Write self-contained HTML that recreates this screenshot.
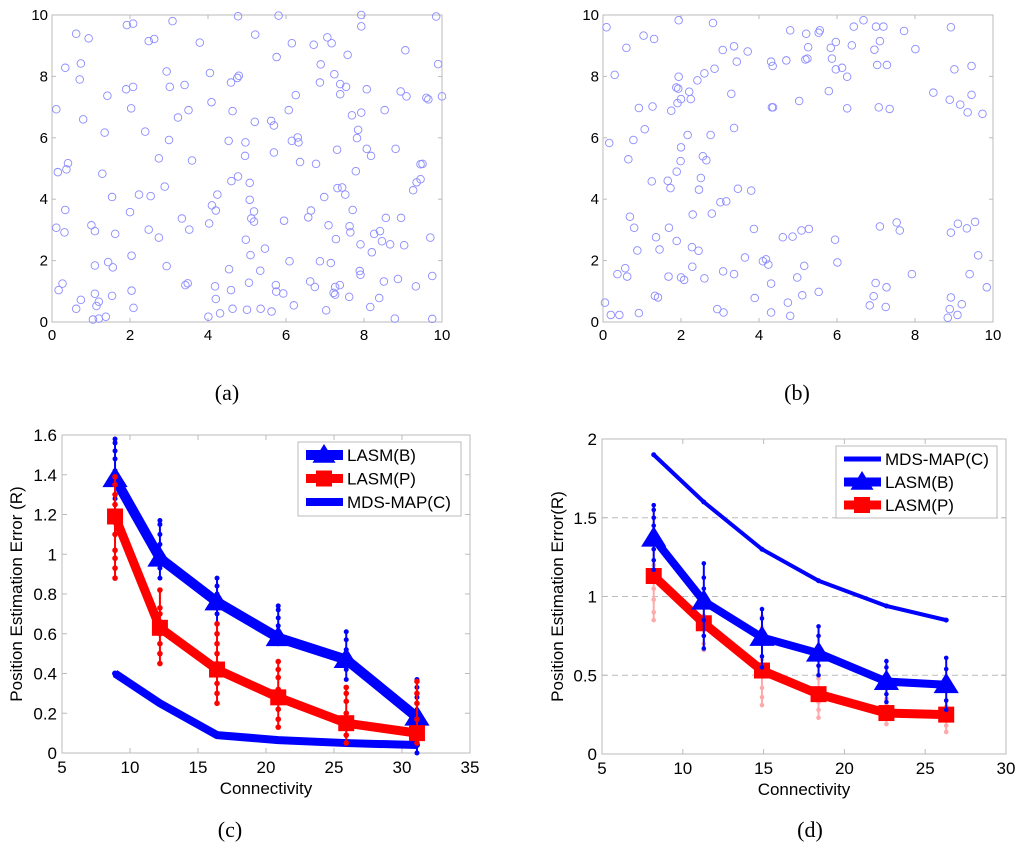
<!DOCTYPE html>
<html><head><meta charset="utf-8"><style>
body{margin:0;background:#fff;}
svg{display:block;font-family:"Liberation Sans",sans-serif;}
</style></head><body>
<svg id="fig" width="1024" height="850" viewBox="0 0 1024 850"></svg>
<script>
// ---------- DATA ----------
const scatterAX=[0.62,0.94,1.92,2.08,2.48,2.62,3.09,3.79,4.77,5.81,5.21,6.15,6.71,7.06,7.17,7.93,7.93,9.06,0.34,0.74,0.71,0.8,0.11,1.42,1.9,2.08,2.03,1.35,2.39,2.94,3.02,3.4,3.23,3.5,3.0,4.05,4.09,4.59,4.75,4.79,4.63,5.76,6.25,6.07,6.89,6.87,7.24,7.58,7.39,7.54,7.39,8.07,7.69,7.93,8.53,8.94,9.09,5.2,5.62,5.69,6.15,6.3,6.32,4.53,4.96,4.95,7.85,7.82,8.07,8.18,8.81,7.31,5.69,6.36,6.77,7.79,0.15,0.37,0.41,1.29,2.74,3.59,4.77,4.6,5.07,2.23,2.53,2.89,1.54,4.24,5.07,7.32,7.44,7.52,6.98,9.26,9.35,9.45,0.34,0.11,0.32,1.01,1.1,2.0,1.62,2.48,2.74,3.33,3.52,4.03,4.1,4.2,5.11,5.18,5.18,5.95,6.57,6.64,7.09,7.71,7.63,7.65,8.56,8.95,8.41,8.26,8.46,8.67,7.28,7.91,9.03,4.97,5.46,5.09,8.2,2.04,1.44,1.56,1.1,2.94,4.54,5.34,6.09,6.87,7.15,7.89,7.91,0.27,0.17,1.1,2.04,1.54,0.74,0.62,1.2,1.14,2.09,1.38,1.2,1.05,3.42,3.48,4.18,4.2,4.31,4.01,4.59,4.63,5.05,5.0,5.35,5.63,5.74,5.75,5.93,6.2,6.62,6.74,7.26,7.22,7.26,7.38,7.03,7.62,8.16,8.39,8.51,8.87,8.79,9.33,9.85,9.9,9.6,10.0,9.5,9.45,9.7,9.75,9.75,9.65];
const scatterAY=[9.39,9.24,9.67,9.72,9.15,9.22,9.8,9.1,9.96,9.98,9.36,9.08,9.03,9.27,9.08,10,9.63,8.85,8.28,8.42,7.9,6.6,6.93,7.37,7.58,7.66,6.96,6.17,6.2,8.16,7.66,7.72,6.66,6.9,5.93,8.11,7.16,7.8,7.95,8.02,6.87,8.63,7.39,6.9,8.39,7.8,8.07,8.7,7.75,7.66,7.42,7.58,6.73,6.82,6.9,7.51,7.35,6.52,6.55,6.4,5.9,6.01,5.85,5.9,5.85,5.41,6.26,5.99,5.64,5.41,5.64,5.61,5.52,5.21,5.15,4.91,4.88,4.97,5.17,4.83,5.33,5.26,4.74,4.59,4.53,4.15,4.1,4.41,4.07,4.15,3.98,4.36,4.38,4.15,4.07,4.29,4.55,5.14,3.65,3.07,2.92,3.15,2.96,3.58,2.87,3.01,2.75,3.37,3.01,3.21,3.8,3.63,3.37,3.6,3.27,3.3,3.41,3.63,3.15,3.65,3.12,2.92,3.39,3.39,2.96,2.87,2.63,2.53,2.7,2.53,2.5,2.68,2.39,2.18,2.27,2.16,1.95,1.78,1.84,1.82,1.72,1.67,1.98,1.98,1.92,1.66,1.54,1.25,1.04,0.92,1.02,0.85,0.72,0.43,0.66,0.52,0.46,0.17,0.11,0.08,1.2,1.26,1.16,0.75,0.28,0.17,1.04,0.43,1.28,0.4,0.43,0.34,1.2,0.99,0.93,0.54,1.32,1.14,1.14,0.95,0.89,1.2,0.38,0.82,0.49,0.78,1.32,1.4,0.11,1.16,9.95,8.4,7.3,7.35,5.15,4.65,2.75,1.5,0.1,7.25];
const scatterBX=[0.09,1.04,1.31,1.94,2.82,0.6,0.3,0.92,1.27,1.07,0.16,0.78,0.65,1.75,1.91,2.0,2.25,2.21,1.88,1.93,1.94,2.42,2.6,2.86,3.07,3.36,3.43,3.71,3.29,2.17,2.76,3.36,2.0,1.99,2.56,2.65,1.89,1.25,1.66,1.73,2.51,2.46,3.46,3.8,3.01,3.16,2.3,2.79,0.69,0.8,1.69,1.36,1.89,0.88,1.45,2.28,2.45,3.87,2.29,0.57,0.37,0.62,1.68,2.0,2.08,2.6,3.08,3.36,3.64,4.1,4.18,4.24,4.31,1.33,1.41,0.05,0.2,0.42,0.92,2.93,3.09,3.89,4.31,4.74,4.8,4.61,4.86,5.09,5.28,5.16,4.98,5.11,5.53,5.95,6.01,6.99,6.94,6.84,7.25,7.27,7.1,7.53,7.61,7.92,8.92,9.1,9.33,9.54,9.62,9.4,9.84,8.92,8.89,8.84,9.09,9.2,4.8,5.21,5.53,5.56,5.26,5.19,5.24,4.7,4.31,4.35,5.84,5.97,5.87,5.97,6.13,6.26,5.79,5.03,4.33,4.36,6.26,6.38,6.43,6.68,7.0,7.19,7.1,6.96,7.03,7.28,7.07,7.35,7.72,8.01,8.47,8.92,9.01,9.45,8.89,9.16,9.45,9.35,9.73];
const scatterBY=[9.6,9.33,9.22,9.83,9.74,8.93,8.05,6.97,7.02,6.28,5.83,5.93,5.3,6.88,7.13,7.26,7.26,7.5,7.64,7.6,7.99,7.87,8.1,8.25,8.86,8.98,8.48,8.81,7.43,6.09,6.09,6.32,5.69,5.24,5.4,5.27,4.9,4.58,4.6,4.36,4.69,4.31,4.34,4.28,3.9,3.93,3.5,3.53,3.43,3.07,3.07,2.76,2.64,2.33,2.36,2.44,2.32,3.03,1.8,1.75,1.56,1.48,1.48,1.45,1.37,1.42,1.65,1.56,2.1,1.98,2.04,1.87,1.25,0.85,0.8,0.63,0.23,0.23,0.29,0.42,0.31,0.78,0.31,0.63,0.2,2.76,2.78,2.98,3.03,1.83,1.45,0.87,0.98,2.68,1.94,1.27,0.84,0.54,0.49,1.13,3.11,3.24,2.98,1.56,2.91,3.2,3.05,3.26,2.17,1.56,1.13,0.8,0.42,0.14,0.23,0.58,9.5,9.39,9.42,9.5,8.95,8.55,8.58,8.52,8.48,8.34,8.93,9.12,8.58,8.23,8.28,7.99,7.52,7.2,6.99,6.99,6.96,9.01,9.62,9.83,9.62,9.62,9.15,8.87,8.37,8.37,6.99,6.94,9.48,8.89,7.47,9.6,8.23,8.34,7.24,7.08,7.4,6.83,6.78];

const cX=[8.9,12.2,16.4,20.9,25.9,31.1];
const cB=[1.38,0.98,0.76,0.58,0.47,0.18];
const cP=[1.19,0.63,0.42,0.28,0.15,0.10];
const cM=[0.40,0.25,0.09,0.065,0.05,0.04];
const cBerr=[[1.1,1.2,1.28,1.35,1.42,1.48,1.52,1.56,1.58],[0.88,0.93,1.0,1.05,1.1,1.15,1.17],[0.65,0.7,0.75,0.8,0.84,0.88],[0.55,0.6,0.64,0.68,0.72,0.74],[0.37,0.42,0.48,0.52,0.57,0.61],[0.0,0.05,0.12,0.2,0.28,0.33,0.37]];
const cPerr=[[0.88,0.93,0.98,1.02,1.1,1.18,1.25,1.3,1.35,1.39],[0.45,0.5,0.55,0.6,0.66,0.7,0.73,0.82],[0.25,0.3,0.35,0.4,0.45,0.5,0.55,0.6,0.65],[0.13,0.17,0.22,0.27,0.32,0.38,0.42,0.46],[0.05,0.09,0.13,0.2,0.26,0.3,0.33],[0.05,0.1,0.17,0.25,0.3,0.36]];

const dX=[8.2,11.3,14.9,18.4,22.6,26.3];
const dM=[1.9,1.6,1.3,1.1,0.94,0.85];
const dB=[1.37,0.97,0.74,0.64,0.46,0.44];
const dP=[1.13,0.83,0.53,0.38,0.26,0.25];
const dBerr=[[1.17,1.23,1.3,1.38,1.45,1.5,1.55,1.58],[0.67,0.75,0.85,0.95,1.05,1.12,1.21],[0.55,0.62,0.7,0.78,0.86,0.92],[0.5,0.56,0.62,0.68,0.75,0.81],[0.33,0.38,0.43,0.5,0.55,0.59],[0.28,0.34,0.4,0.47,0.54,0.61]];
const dPerr=[[0.85,0.9,0.98,1.05,1.2,1.3,1.42,1.5,1.55],[0.66,0.7,0.75,0.8,0.88,0.98],[0.31,0.36,0.42,0.5,0.6,0.7,0.8,0.87],[0.23,0.28,0.33,0.4,0.48,0.56],[0.19,0.23,0.27,0.31,0.35],[0.14,0.18,0.22,0.27,0.3,0.34]];

const cYTicks=[0,0.2,0.4,0.6,0.8,1,1.2,1.4,1.6];
const cYLabels=["0","0.2","0.4","0.6","0.8","1","1.2","1.4","1.6"];
const cXTicks=[5,10,15,20,25,30,35];
const dYTicks=[0,0.5,1,1.5,2];
const dYLabels=["0","0.5","1","1.5","2"];
const dXTicks=[5,10,15,20,25,30];
const sTicks=[0,2,4,6,8,10];

// ---------- HELPERS ----------
const NS="http://www.w3.org/2000/svg";
const svg=document.getElementById('fig');
function mk(tag,attrs,parent){const e=document.createElementNS(NS,tag);for(const k in attrs)e.setAttribute(k,attrs[k]);(parent||svg).appendChild(e);return e;}
function txt(s,attrs,parent){const e=mk('text',attrs,parent);e.textContent=s;return e;}
function scale(d0,d1,r0,r1){return v=>r0+(v-d0)/(d1-d0)*(r1-r0);}

// ---------- SCATTER PANELS ----------
function scatterPanel(name,L,R,T,B,xs,ys){
  const g=mk('g',{});
  
  
  const sx=scale(0,10,L,R), sy=scale(0,10,B,T);
  mk('rect',{x:L,y:T,width:R-L,height:B-T,fill:'#fff',stroke:'#bbb','stroke-width':1},g);
  sTicks.forEach(t=>{
    mk('line',{x1:sx(t),x2:sx(t),y1:B,y2:B-4,stroke:'#bbb'},g);
    mk('line',{x1:sx(t),x2:sx(t),y1:T,y2:T+4,stroke:'#bbb'},g);
    mk('line',{x1:L,x2:L+4,y1:sy(t),y2:sy(t),stroke:'#bbb'},g);
    mk('line',{x1:R,x2:R-4,y1:sy(t),y2:sy(t),stroke:'#bbb'},g);
    const xl=txt(String(t),{x:sx(t),y:B+18,'font-size':15,'text-anchor':'middle',fill:'#000'},g);
    
    
    const yl=txt(String(t),{x:L-4,y:sy(t)+5,'font-size':15,'text-anchor':'end',fill:'#000'},g);
    
    
  });
  xs.forEach((x,i)=>{
    const c=mk('circle',{cx:sx(x),cy:sy(ys[i]),r:3.8,fill:'none',stroke:'#8c8cff','stroke-width':0.9},g);
    
    
  });
}
scatterPanel('scatter-a',52,442,15,322,scatterAX,scatterAY);
scatterPanel('scatter-b',603,993,15,322,scatterBX,scatterBY);

// ---------- LINE PANELS ----------
function tri(cx,cy,s,fill,g){return mk('polygon',{points:`${cx},${cy-s} ${cx-s*1.05},${cy+s*0.7} ${cx+s*1.05},${cy+s*0.7}`,fill:fill},g);}
function sq(cx,cy,s,fill,g){return mk('rect',{x:cx-s,y:cy-s,width:2*s,height:2*s,fill:fill},g);}

function linePanel(opt){
  const g=mk('g',{});
  
  
  const {L,R,T,B}=opt;
  const sx=scale(opt.xd[0],opt.xd[1],L,R), sy=scale(opt.yd[0],opt.yd[1],B,T);
  mk('rect',{x:L,y:T,width:R-L,height:B-T,fill:'#fff',stroke:'#bbb'},g);
  opt.yTicks.forEach((t,i)=>{
    if(opt.grid && t>opt.yd[0] && t<opt.yd[1]) mk('line',{x1:L,x2:R,y1:sy(t),y2:sy(t),stroke:'#bbb','stroke-dasharray':'6,4'},g);
    mk('line',{x1:L,x2:L+5,y1:sy(t),y2:sy(t),stroke:'#bbb'},g);
    mk('line',{x1:R,x2:R-5,y1:sy(t),y2:sy(t),stroke:'#bbb'},g);
    const yl=txt(opt.yLabels[i],{x:L-5,y:sy(t)+6,'font-size':17,'text-anchor':'end',fill:'#000'},g);
    
    
  });
  opt.xTicks.forEach(t=>{
    mk('line',{x1:sx(t),x2:sx(t),y1:B,y2:B-5,stroke:'#bbb'},g);
    mk('line',{x1:sx(t),x2:sx(t),y1:T,y2:T+5,stroke:'#bbb'},g);
    const xl=txt(String(t),{x:sx(t),y:B+20,'font-size':17,'text-anchor':'middle',fill:'#000'},g);
    
    
  });
  const xt=txt('Connectivity',{x:(L+R)/2,y:B+41,'font-size':17,'text-anchor':'middle',fill:'#000'},g);
  
  
  const yt=txt(opt.yTitle,{x:0,y:0,'font-size':17,'text-anchor':'middle',fill:'#000',transform:`translate(${opt.yTitleX},${(T+B)/2}) rotate(-90)`},g);
  
  
  opt.series.forEach(s=>{
    const sg=mk('g',{},g);
    
    
    if(s.err){
      s.err.forEach((arr,i)=>{
        const x=sx(opt.xs[i]);
        mk('line',{x1:x,x2:x,y1:sy(Math.min(...arr)),y2:sy(Math.max(...arr)),stroke:s.errColor,'stroke-width':2},sg);
        arr.forEach(v=>{
          const p=mk('circle',{cx:x,cy:sy(v),r:s.errR,fill:s.errColor},sg);
          
          
        });
      });
    }
    const pts=opt.xs.map((x,i)=>sx(x)+','+sy(s.ys[i])).join(' ');
    mk('polyline',{points:pts,fill:'none',stroke:s.color,'stroke-width':s.w,'stroke-linejoin':'round'},sg);
    opt.xs.forEach((x,i)=>{
      let m;
      if(s.marker==='tri') m=tri(sx(x),sy(s.ys[i]),s.ms,s.color,sg);
      else if(s.marker==='sq') m=sq(sx(x),sy(s.ys[i]),s.ms,s.color,sg);
      else m=mk('circle',{cx:sx(x),cy:sy(s.ys[i]),r:s.ms,fill:s.color},sg);
      
      
    });
  });
  const lg=mk('g',{},g);
  
  
  const Lg=opt.legend;
  mk('rect',{x:Lg.x,y:Lg.y,width:Lg.w,height:Lg.h,fill:'#fff',stroke:'#bbb'},lg);
  Lg.items.forEach((it,i)=>{
    const yy=Lg.y0+i*Lg.dy;
    const eg=mk('g',{},lg);
    
    
    mk('line',{x1:Lg.x+8,x2:Lg.x+45,y1:yy,y2:yy,stroke:it.color,'stroke-width':it.w},eg);
    if(it.marker==='tri') tri(Lg.x+26,yy,it.ms,it.color,eg);
    else if(it.marker==='sq') sq(Lg.x+26,yy,it.ms,it.color,eg);
    else mk('circle',{cx:Lg.x+26,cy:yy,r:it.ms,fill:it.color},eg);
    txt(it.label,{x:Lg.x+49,y:yy+6,'font-size':17,fill:'#000'},eg);
  });
}

linePanel({name:'chart-c',L:62,R:470,T:435,B:753,xd:[5,35],yd:[0,1.6],
  yTicks:cYTicks,yLabels:cYLabels,xTicks:cXTicks,grid:false,
  yTitle:'Position Estimation Error (R)',yTitleX:22,xs:cX,
  series:[
    {name:'series-mds-map-c',ys:cM,color:'#0000ff',w:8,marker:'dot',ms:3},
    {name:'series-lasm-b',ys:cB,color:'#0000ff',w:10,marker:'tri',ms:12,err:cBerr,errColor:'#0000ff',errR:2.5},
    {name:'series-lasm-p',ys:cP,color:'#ff0000',w:9,marker:'sq',ms:8,err:cPerr,errColor:'#ff0000',errR:2.8}
  ],
  legend:{x:298,y:442,w:163,h:74,y0:455,dy:23.5,items:[
    {label:'LASM(B)',color:'#0000ff',w:10,marker:'tri',ms:11},
    {label:'LASM(P)',color:'#ff0000',w:9,marker:'sq',ms:8},
    {label:'MDS-MAP(C)',color:'#0000ff',w:8,marker:'dot',ms:2}]}
});

linePanel({name:'chart-d',L:602,R:1006,T:439,B:754,xd:[5,30],yd:[0,2],
  yTicks:dYTicks,yLabels:dYLabels,xTicks:dXTicks,grid:true,
  yTitle:'Position Estimation Error(R)',yTitleX:563,xs:dX,
  series:[
    {name:'series-mds-map-c',ys:dM,color:'#0000ff',w:4,marker:'dot',ms:2.5},
    {name:'series-lasm-p',ys:dP,color:'#ff0000',w:9,marker:'sq',ms:8,err:dPerr,errColor:'#ffaaaa',errR:2.3},
    {name:'series-lasm-b',ys:dB,color:'#0000ff',w:8,marker:'tri',ms:12,err:dBerr,errColor:'#0000ff',errR:2.3}
  ],
  legend:{x:836,y:446,w:161,h:72,y0:459,dy:23,items:[
    {label:'MDS-MAP(C)',color:'#0000ff',w:5,marker:'dot',ms:2},
    {label:'LASM(B)',color:'#0000ff',w:9,marker:'tri',ms:11},
    {label:'LASM(P)',color:'#ff0000',w:9,marker:'sq',ms:8}]}
});

[['(a)',227,400],['(b)',797,400],['(c)',230,837],['(d)',810,837]].forEach(c=>{
  const t=txt(c[0],{x:c[1],y:c[2],'font-size':22,'text-anchor':'middle',fill:'#000','font-family':'"Liberation Serif",serif'});
  
  
});
</script>
</body></html>
